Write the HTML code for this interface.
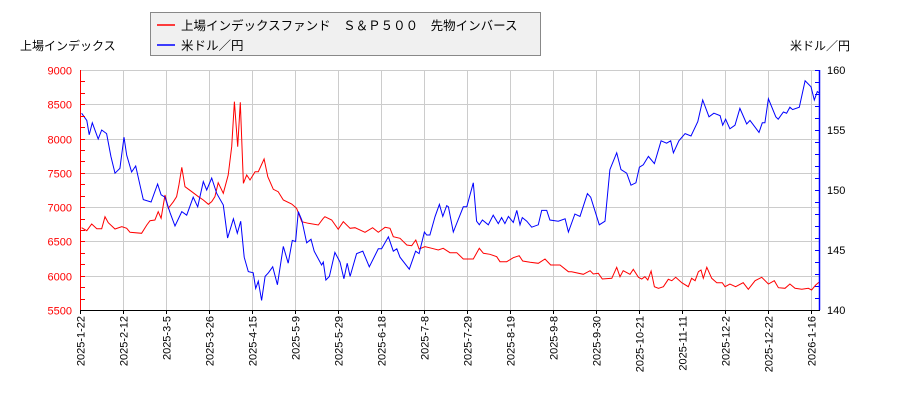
<!DOCTYPE html>
<html><head><meta charset="utf-8">
<style>
html,body{margin:0;padding:0;background:#fff;}
body{width:900px;height:400px;overflow:hidden;font-family:"Liberation Sans","Noto Sans CJK JP",sans-serif;}
svg text{font-family:"Liberation Sans","Noto Sans CJK JP",sans-serif;}
</style></head>
<body>
<svg id="chart" width="900" height="400" xmlns="http://www.w3.org/2000/svg">
<g id="grid"></g>
<g id="series"></g>
<g id="axes"></g>
<text x="20" y="50" font-size="12" fill="#000">上場インデックス</text>
<text x="850" y="50" font-size="12" fill="#000" text-anchor="end">米ドル／円</text>
<g>
<rect x="150.5" y="12.5" width="390" height="43" fill="#f0f0f0" stroke="#888"/>
<g>
<line x1="157" y1="25" x2="175" y2="25" stroke="#f00" stroke-width="1.5"/>
<text x="181" y="30" font-size="12.5">上場インデックスファンド　Ｓ＆Ｐ５００　先物インバース</text></g>
<g>
<line x1="157" y1="45" x2="175" y2="45" stroke="#00f" stroke-width="1.5"/>
<text x="181" y="50" font-size="12.5">米ドル／円</text></g>
</g>
</svg>
<script>
// day offsets since 2025-01-22 and values
const redDays=[0.8,3.3,5.7,8.2,10.6,12.2,13.8,17.1,20.4,22.8,24.4,30.1,32.6,34.2,36.6,38.2,39.6,41.5,43.1,45.6,47.2,48.3,49.7,51.3,54.6,57.8,60.2,62.7,64.3,65.9,67.5,70,72.4,74.1,75.4,77,78.3,79.8,81.4,83,85.5,87.1,89.9,91.7,94.4,96.8,99.3,103.4,105.8,108.3,111.5,116.4,118.8,119.6,122.9,126.1,128.6,131.9,134.3,139.2,142.9,145.7,149,151.4,153,156.3,159.6,162,164,165.6,168.5,171.8,175,177.4,180.7,184,187.2,192.1,195,197,200.2,203.5,205.1,208.4,211.6,214.5,216.2,219.8,223.8,227.1,229.9,234.4,238.5,240.1,245.8,249.1,250.7,253.1,255.1,259.7,262.1,263.7,265.3,268.6,270.2,272.7,274.3,275.9,277.3,278.9,280.5,282.5,284.9,287.3,289,290.9,293.9,297.1,298.7,300.4,302,303.3,304.4,306.1,308.5,311,313.7,315,317.4,320.2,323.9,326.4,329.7,332.9,336.2,339.1,341.1,344.3,346.7,349.2,352.5,355.7,357.3,359.3,360.9];
const redValues=[6700,6656,6754,6686,6686,6861,6773,6681,6715,6691,6633,6619,6740,6802,6813,6934,6837,7177,6983,7079,7152,7323,7581,7298,7225,7152,7104,7041,7079,7152,7356,7202,7469,7881,8538,7881,8529,7348,7469,7396,7517,7517,7702,7444,7260,7225,7104,7046,6983,6788,6764,6740,6837,6861,6813,6677,6788,6691,6700,6633,6700,6633,6706,6691,6569,6546,6448,6438,6521,6390,6423,6400,6375,6400,6336,6336,6244,6244,6400,6327,6312,6277,6204,6204,6263,6292,6215,6196,6181,6244,6156,6156,6059,6059,6021,6073,6025,6035,5952,5962,6123,5986,6073,6021,6094,5977,5952,5986,5938,6069,5840,5816,5840,5948,5928,5977,5898,5840,5962,5928,6059,6083,5962,6123,5962,5898,5898,5840,5879,5840,5898,5802,5928,5977,5879,5928,5825,5816,5879,5816,5802,5816,5792,5865,5904];
const blueDays=[0.8,3.3,4.5,6,8.9,10.6,13,15.1,17.1,19.5,21.5,22.8,25.2,27.2,29.3,30.9,34.7,37.9,39.6,41.5,44,46.4,49.7,52.1,55.3,57.5,60.2,61.9,64.3,66.8,70,72.1,74.9,76.8,78.5,80.2,82.2,84.6,85.8,87.1,88.7,90.4,92,94.1,96.4,99.3,101.7,103.7,105.3,106.6,108.3,110.7,112.8,114.4,118,118.8,120.1,121.8,124.5,127,128.9,130.5,131.9,135.1,138.1,141.3,145.7,147.3,150.6,153,154.7,156.3,160.8,163.9,165.6,168.2,169.3,170.9,173.4,175.5,177.2,179.1,179.9,182.3,187.2,188.9,192.1,193.7,195,196.5,199.4,201.8,204.3,205.9,207.5,209.2,211.6,213.3,214.9,216,218.2,220.6,223.8,225.5,227.9,229.5,233.6,236.9,238.5,241.7,244.2,247.8,249.4,253.6,256.4,258.8,262.1,264.2,267,269.1,271.5,273.2,275.1,277.6,280.5,283.8,286.5,288.5,289.8,292.5,295.5,298.4,301.7,304.1,307.2,309.6,312.6,313.9,315.3,317.4,319.9,322.3,325.6,327.2,331.6,333.2,334.5,336.2,339.8,341,343.5,345.1,346.7,348,351.3,354.1,357,358.6,360.1,360.9];
const blueValues=[156.4,155.8,154.6,155.6,154.25,155,154.7,152.8,151.4,151.8,154.4,152.9,151.5,152,150.4,149.2,149.0,150.5,149.6,149.4,148.1,147.0,148.2,147.9,149.4,148.6,150.7,150,151,149.7,148.75,146,147.6,146.4,147.4,144.4,143.2,143.1,141.8,142.4,140.8,142.8,143.1,143.6,142.1,145.3,143.9,145.8,145.7,148.2,147.5,145.6,145.9,144.9,143.75,144.0,142.5,142.8,144.8,144,142.6,143.9,142.8,144.7,144.9,143.6,145.1,145.1,146.1,144.9,145.1,144.4,143.4,144.9,144.7,146.5,146.25,146.25,147.8,148.8,147.8,148.7,148.6,146.5,148.6,148.6,150.6,147.4,147.1,147.5,147.1,147.9,147.2,147.7,147.2,147.8,147.3,148.3,147.1,147.7,147.4,146.9,147.1,148.3,148.3,147.5,147.4,147.6,146.5,148,147.8,149.7,149.4,147.1,147.4,151.7,153.1,151.7,151.4,150.4,150.6,151.9,152.1,152.8,152.2,154.1,153.9,154.1,153.1,154.1,154.7,154.5,155.7,157.5,156.1,156.4,156.2,155.4,155.9,155.1,155.4,156.8,155.5,155.8,154.8,155.6,155.6,157.6,156.1,155.9,156.5,156.4,156.9,156.7,156.9,159.1,158.6,157.5,158.2,158.1];
const xTickLabels=["2025-1-22","2025-2-12","2025-3-5","2025-3-26","2025-4-15","2025-5-9","2025-5-29","2025-6-18","2025-7-8","2025-7-29","2025-8-19","2025-9-8","2025-9-30","2025-10-21","2025-11-11","2025-12-2","2025-12-22","2026-1-16"];
const leftTicks=[5500,6000,6500,7000,7500,8000,8500,9000];
const rightTicks=[140,145,150,155,160];

const X0=80,X1=820,Y0=70,Y1=310;
const pxPerDay=43/21;
const xAt=d=>X0+d*pxPerDay;
const yL=v=>Y1-(v-5500)/3500*(Y1-Y0);
const yR=v=>Y1-(v-140)/20*(Y1-Y0);
const NS="http://www.w3.org/2000/svg";
function mk(tag,attrs,parent){const e=document.createElementNS(NS,tag);for(const k in attrs)e.setAttribute(k,attrs[k]);parent.appendChild(e);return e;}
const grid=document.getElementById('grid'),axes=document.getElementById('axes'),series=document.getElementById('series');

leftTicks.forEach((v,i)=>{
  const y=Math.round(yL(v))+0.5;
  const g=mk('line',{x1:X0,x2:X1,y1:y,y2:y,stroke:'#ccc','stroke-width':1},grid);
  
  
  const t=mk('text',{x:X0-8,y:y+4,'font-size':11,'text-anchor':'end',fill:'#f00'},axes);
  t.textContent=v;
  
  
  if(i<leftTicks.length-1){for(let k=0;k<3;k++){const yy=Math.round(yL(v+k*500/3))+0.5;
    const tk=mk('line',{x1:X0,x2:X0+5,y1:yy,y2:yy,stroke:'#f00'},axes);
    
    }}
});
for(let v=140;v<=160;v++){const y=Math.round(yR(v))+0.5;
  const tk=mk('line',{x1:X1-5,x2:X1,y1:y,y2:y,stroke:'#00f'},axes);
  
  }
rightTicks.forEach(v=>{const y=Math.round(yR(v));
  const t=mk('text',{x:X1+7,y:y+4,'font-size':11,fill:'#000'},axes);
  t.textContent=v;
  
  });
xTickLabels.forEach((lab,i)=>{
  const x=Math.round(X0+i*43)+0.5;
  const g=mk('line',{x1:x,x2:x,y1:Y0,y2:Y1,stroke:'#ccc'},grid);
  
  
  const tk=mk('line',{x1:x,x2:x,y1:Y1,y2:Y1+4,stroke:'#000'},axes);
  
  
  const t=mk('text',{x:0,y:0,'font-size':11,'text-anchor':'end',transform:`translate(${x+4},${Y1+6}) rotate(-90)`},axes);
  t.textContent=lab;
  
  
});
const la=mk('line',{x1:X0+0.5,x2:X0+0.5,y1:Y0,y2:Y1,stroke:'#f00'},axes);


const ra=mk('line',{x1:X1-0.5,x2:X1-0.5,y1:Y0,y2:Y1,stroke:'#00f','stroke-width':1.5},axes);


const ba=mk('line',{x1:X0,x2:X1,y1:Y1+0.5,y2:Y1+0.5,stroke:'#000'},axes);



const rp=mk('polyline',{points:redDays.map((d,i)=>xAt(d).toFixed(1)+','+yL(redValues[i]).toFixed(1)).join(' '),fill:'none',stroke:'#f00','stroke-width':1},series);


const bp=mk('polyline',{points:blueDays.map((d,i)=>xAt(d).toFixed(1)+','+yR(blueValues[i]).toFixed(1)).join(' '),fill:'none',stroke:'#00f','stroke-width':1},series);


</script>
</body></html>
